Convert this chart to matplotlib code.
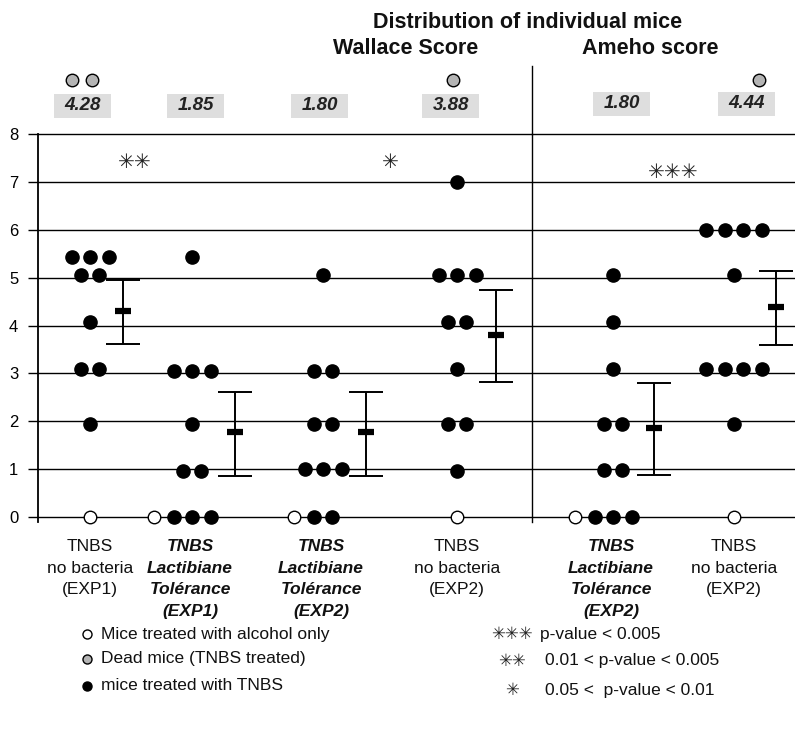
import matplotlib.pyplot as plt
from matplotlib.patches import Rectangle
import numpy as np

W, H = 795, 746

# --- data ---
group_labels = ["TNBS\nno bacteria\n(EXP1)",
                "TNBS\nLactibiane\nTolérance\n(EXP1)",
                "TNBS\nLactibiane\nTolérance\n(EXP2)",
                "TNBS\nno bacteria\n(EXP2)",
                "TNBS\nLactibiane\nTolérance\n(EXP2)",
                "TNBS\nno bacteria\n(EXP2)"]
is_lacti = [False, True, True, False, True, False]

# individual TNBS mice scores (values slightly offset in the original to avoid overlap)
scores = [
    [5.43, 5.43, 5.43, 5.05, 5.05, 4.08, 3.1, 3.1, 1.95],
    [5.43, 3.05, 3.05, 3.05, 1.95, 0.97, 0.97, 0, 0, 0],
    [5.05, 3.05, 3.05, 1.95, 1.95, 1.0, 1.0, 1.0, 0, 0],
    [7.0, 5.05, 5.05, 5.05, 4.08, 4.08, 3.1, 1.95, 1.95, 0.97],
    [5.05, 4.08, 3.1, 1.95, 1.95, 0.98, 0.98, 0, 0, 0],
    [6.0, 6.0, 6.0, 6.0, 5.05, 3.1, 3.1, 3.1, 3.1, 1.95],
]
alcohol_only = [1, 1, 1, 1, 1, 1]   # control mice, score 0
dead = [2, 0, 0, 1, 0, 1]
means = [4.30, 1.77, 1.77, 3.81, 1.86, 4.39]
err_lo = [3.61, 0.86, 0.86, 2.82, 0.88, 3.59]
err_hi = [4.96, 2.62, 2.62, 4.74, 2.79, 5.14]
mean_labels = ["4.28", "1.85", "1.80", "3.88", "1.80", "4.44"]
stars = ["✳✳", "✳", "✳✳✳"]
star_pairs = [(0, 1), (2, 3), (4, 5)]
star_y = [7.4, 7.4, 7.2]

# --- layout (pixel frame of the reference) ---
group_x = [90, 192, 323, 457, 613, 734]
err_dx = [33, 43, 43, 39, 41, 42]
label_x = [82, 195, 319, 450, 621, 746]
dead_shift = [0, 0, 0, 3, 0, 13]
label_y = [106, 106, 106, 106, 104, 104]
star_dx = [-6, 0, 0]
spacing = 18.5
x_div = 532

narrow = ['Liberation Sans Narrow', 'Liberation Sans', 'DejaVu Sans']
sans = ['Liberation Sans', 'DejaVu Sans']


def fp(x, y):
    return x / W, 1 - y / H


fig = plt.figure(figsize=(W / 100, H / 100), dpi=100)
y0, y8 = 517, 134
ax = fig.add_axes([37.7 / W, 1 - y0 / H, (W - 37.7) / W, (y0 - y8) / H])
ax.set_xlim(37.7, W)
ax.set_ylim(0, 8)

for v in range(0, 9):
    ax.axhline(v, color='black', lw=1.0, zorder=1, clip_on=False)
ax.plot([x_div, x_div], [-0.1, 8], color='black', lw=1.0, clip_on=False, zorder=1)
fig.add_artist(plt.Line2D([x_div / W, x_div / W], [1 - 66 / H, 1 - y8 / H], color='black', lw=1.0))
ax.plot([37.7, 37.7], [-0.1, 8], color='black', lw=1.3, clip_on=False, zorder=1)

for s in ax.spines.values():
    s.set_visible(False)
ax.set_xticks([])
ax.set_yticks(range(0, 9))
ax.tick_params(axis='y', length=7, width=1.0, pad=7, labelsize=12)
for t in ax.get_yticklabels():
    t.set_family(sans)

for i, vals in enumerate(scores):
    cx = group_x[i]
    levels = sorted(set(vals), reverse=True)
    for lv in levels:
        n = vals.count(lv)
        xs = cx + (np.arange(n) - (n - 1) / 2) * spacing
        ax.plot(xs, [lv] * n, 'o', color='black', ms=9.5, clip_on=False, zorder=3)
        if lv == 0:
            first_black = xs[0]
    # alcohol-only control at score 0
    if 0 in vals:
        ox = first_black - 19.5
    else:
        ox = cx
    ax.plot([ox] * alcohol_only[i], [0] * alcohol_only[i], 'o', mfc='white', mec='black',
            mew=1.0, ms=9, clip_on=False, zorder=3)
    # mean and error bar
    ex = cx + err_dx[i]
    ax.errorbar([ex], [means[i]], yerr=[[means[i] - err_lo[i]], [err_hi[i] - means[i]]],
                fmt='none', ecolor='black', elinewidth=1.4, capsize=12, capthick=1.4, zorder=2)
    ax.plot([ex - 8, ex + 8], [means[i], means[i]], color='black', lw=4.5,
            solid_capstyle='butt', zorder=4)

    # mean label box and dead mice
    bw, bh = 57, 23
    fig.add_artist(Rectangle(fp(label_x[i] - bw / 2, label_y[i] + bh / 2), bw / W, bh / H,
                             fc='#dedede', ec='none'))
    fig.text(*fp(label_x[i] + 1, label_y[i]), mean_labels[i], ha='center', va='center',
             fontsize=13.5, fontweight='bold', fontstyle='italic', family=sans, color='#222222')
    nd = dead[i]
    for k in range(nd):
        dx = label_x[i] + dead_shift[i] + (k - (nd - 1) / 2) * 20
        fig.add_artist(plt.Line2D([dx / W], [1 - 80 / H], marker='o', ms=9, mfc='#b4b4b4',
                                  mec='black', mew=1.0, ls='none'))

    # category label
    fig.text(*fp(group_x[i] + (-2 if is_lacti[i] else 0), 539), group_labels[i],
             ha='center', va='top', fontsize=12.5, linespacing=1.55, family=narrow,
             fontweight='bold' if is_lacti[i] else 'normal',
             fontstyle='italic' if is_lacti[i] else 'normal', color='#111111')

# significance stars
for s, (a, b), sy, sdx in zip(stars, star_pairs, star_y, star_dx):
    ax.text((group_x[a] + group_x[b]) / 2 + sdx, sy, s, ha='center', va='center',
            fontsize=14.5, family='DejaVu Sans', color='#222222')

# titles
fig.text(*fp(528, 22), "Distribution of individual mice", ha='center', va='center',
         fontsize=15.5, fontweight='bold', family=sans, color='#111111')
fig.text(*fp(406, 49), "Wallace Score", ha='center', va='center',
         fontsize=15.5, fontweight='bold', family=sans, color='#111111')
fig.text(*fp(650, 49), "Ameho score", ha='center', va='center',
         fontsize=15.5, fontweight='bold', family=sans, color='#111111')

# legend (left)
leg_items = [("Mice treated with alcohol only", 'white', 634),
             ("Dead mice (TNBS treated)", '#b4b4b4', 659),
             ("mice treated with TNBS", 'black', 686)]
for txt, fc, ly in leg_items:
    fig.add_artist(plt.Line2D([87 / W], [1 - ly / H], marker='o', ms=6.5, mfc=fc,
                              mec='black', mew=1.0, ls='none'))
    fig.text(*fp(101, ly), txt, ha='left', va='center', fontsize=12.5, family=narrow,
             color='#111111')

# legend (right)
p_items = [("✳✳✳", "p-value < 0.005", 634, 540),
           ("✳✳", "0.01 < p-value < 0.005", 661, 545),
           ("✳", "0.05 <  p-value < 0.01", 690, 545)]
for s, txt, ly, tx in p_items:
    fig.text(*fp(512, ly), s, ha='center', va='center', fontsize=12,
             family='DejaVu Sans', color='#222222')
    fig.text(*fp(tx, ly), txt, ha='left', va='center', fontsize=12.5, family=narrow,
             color='#111111')

fig.savefig("out.png", dpi=100)
